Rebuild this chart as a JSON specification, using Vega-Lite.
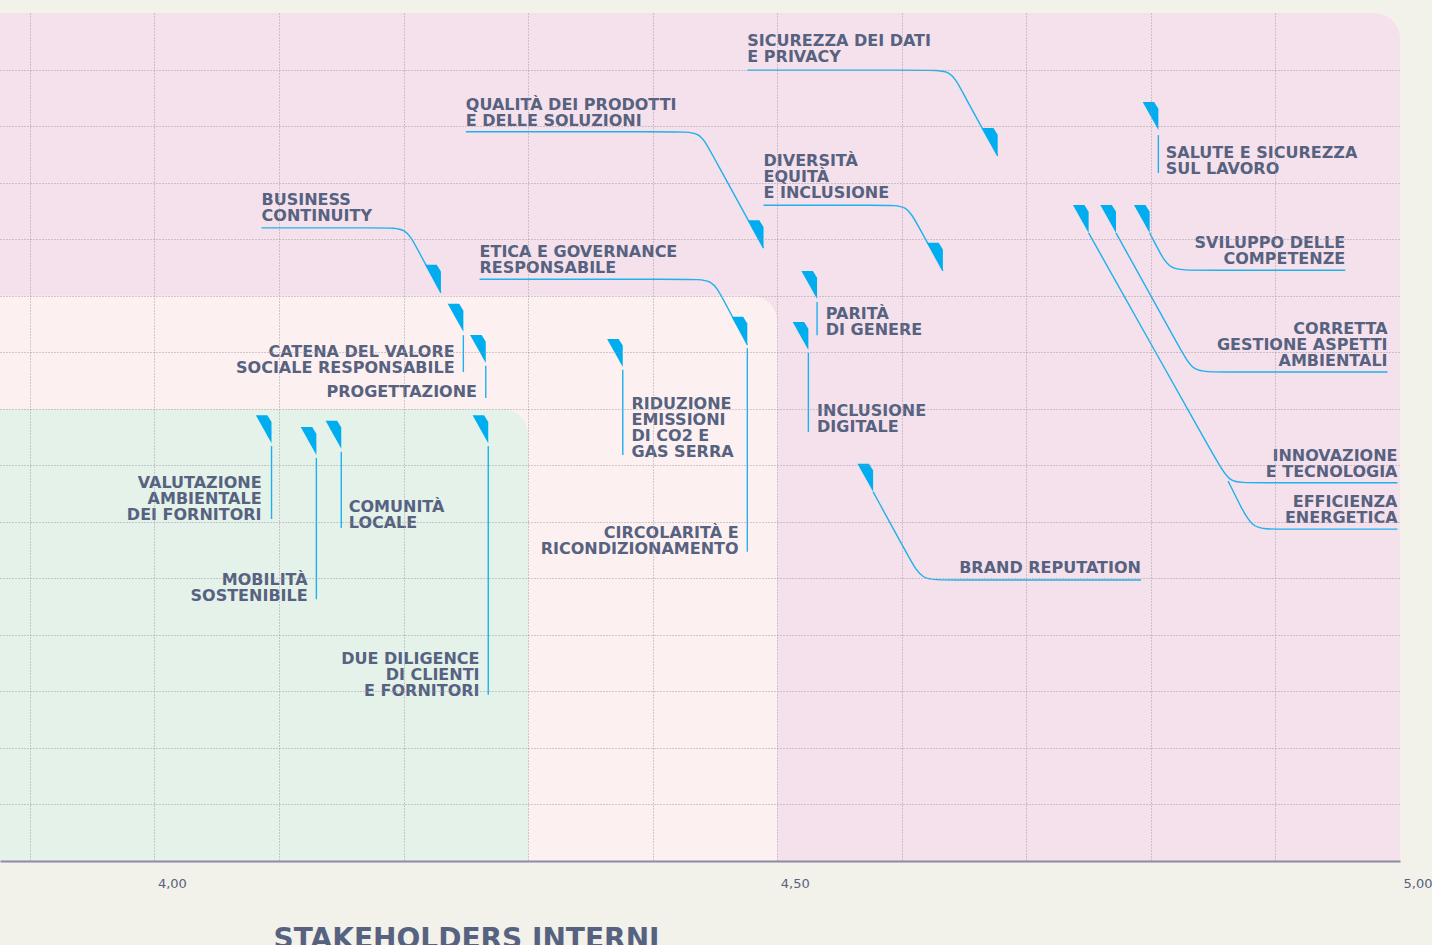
{
  "$schema": "https://vega.github.io/schema/vega-lite/v6.json",
  "width": 1400,
  "height": 848,
  "autosize": {"type": "none"},
  "padding": {"left": 0, "top": 13, "right": 32, "bottom": 84},
  "background": "#f2f1ea",
  "config": {"view": {"stroke": null}},
  "datasets": {
    "zones": [
      {"zone": "alta", "x": 3.876, "xe": 5.0, "y": 3.5, "ye": 5.0},
      {"zone": "media", "x": 3.876, "xe": 4.5, "y": 3.5, "ye": 4.5},
      {"zone": "bassa", "x": 3.876, "xe": 4.3, "y": 3.5, "ye": 4.3}
    ],
    "leaders": [
      {"id": "sicurezza", "i": 0, "x": 4.476, "y": 4.899},
      {"id": "sicurezza", "i": 1, "x": 4.621, "y": 4.899},
      {"id": "sicurezza", "i": 2, "x": 4.640, "y": 4.899},
      {"id": "sicurezza", "i": 3, "x": 4.648, "y": 4.862},
      {"id": "sicurezza", "i": 4, "x": 4.677, "y": 4.747},
      {"id": "qualita", "i": 0, "x": 4.250, "y": 4.790},
      {"id": "qualita", "i": 1, "x": 4.420, "y": 4.790},
      {"id": "qualita", "i": 2, "x": 4.438, "y": 4.790},
      {"id": "qualita", "i": 3, "x": 4.446, "y": 4.757},
      {"id": "qualita", "i": 4, "x": 4.489, "y": 4.584},
      {"id": "diversita", "i": 0, "x": 4.489, "y": 4.660},
      {"id": "diversita", "i": 1, "x": 4.587, "y": 4.660},
      {"id": "diversita", "i": 2, "x": 4.604, "y": 4.660},
      {"id": "diversita", "i": 3, "x": 4.612, "y": 4.628},
      {"id": "diversita", "i": 4, "x": 4.633, "y": 4.544},
      {"id": "business", "i": 0, "x": 4.086, "y": 4.620},
      {"id": "business", "i": 1, "x": 4.185, "y": 4.620},
      {"id": "business", "i": 2, "x": 4.202, "y": 4.620},
      {"id": "business", "i": 3, "x": 4.210, "y": 4.587},
      {"id": "business", "i": 4, "x": 4.230, "y": 4.505},
      {"id": "etica", "i": 0, "x": 4.261, "y": 4.529},
      {"id": "etica", "i": 1, "x": 4.430, "y": 4.529},
      {"id": "etica", "i": 2, "x": 4.448, "y": 4.529},
      {"id": "etica", "i": 3, "x": 4.456, "y": 4.496},
      {"id": "etica", "i": 4, "x": 4.476, "y": 4.413},
      {"id": "brand", "i": 0, "x": 4.577, "y": 4.153},
      {"id": "brand", "i": 1, "x": 4.607, "y": 4.032},
      {"id": "brand", "i": 2, "x": 4.616, "y": 3.997},
      {"id": "brand", "i": 3, "x": 4.634, "y": 3.997},
      {"id": "brand", "i": 4, "x": 4.792, "y": 3.997},
      {"id": "sviluppo", "i": 0, "x": 4.799, "y": 4.611},
      {"id": "sviluppo", "i": 1, "x": 4.807, "y": 4.577},
      {"id": "sviluppo", "i": 2, "x": 4.815, "y": 4.545},
      {"id": "sviluppo", "i": 3, "x": 4.835, "y": 4.545},
      {"id": "sviluppo", "i": 4, "x": 4.956, "y": 4.545},
      {"id": "corretta", "i": 0, "x": 4.772, "y": 4.611},
      {"id": "corretta", "i": 1, "x": 4.825, "y": 4.400},
      {"id": "corretta", "i": 2, "x": 4.834, "y": 4.365},
      {"id": "corretta", "i": 3, "x": 4.852, "y": 4.365},
      {"id": "corretta", "i": 4, "x": 4.990, "y": 4.365},
      {"id": "innovazione", "i": 0, "x": 4.750, "y": 4.611},
      {"id": "innovazione", "i": 1, "x": 4.854, "y": 4.203},
      {"id": "innovazione", "i": 2, "x": 4.863, "y": 4.169},
      {"id": "innovazione", "i": 3, "x": 4.880, "y": 4.169},
      {"id": "innovazione", "i": 4, "x": 4.998, "y": 4.169},
      {"id": "efficienza", "i": 0, "x": 4.862, "y": 4.172},
      {"id": "efficienza", "i": 1, "x": 4.873, "y": 4.123},
      {"id": "efficienza", "i": 2, "x": 4.882, "y": 4.087},
      {"id": "efficienza", "i": 3, "x": 4.900, "y": 4.087},
      {"id": "efficienza", "i": 4, "x": 4.998, "y": 4.087},
      {"id": "salute", "i": 0, "x": 4.806, "y": 4.784},
      {"id": "salute", "i": 1, "x": 4.806, "y": 4.717},
      {"id": "catena", "i": 0, "x": 4.248, "y": 4.430},
      {"id": "catena", "i": 1, "x": 4.248, "y": 4.365},
      {"id": "progettazione", "i": 0, "x": 4.266, "y": 4.376},
      {"id": "progettazione", "i": 1, "x": 4.266, "y": 4.319},
      {"id": "circolarita", "i": 0, "x": 4.476, "y": 4.407},
      {"id": "circolarita", "i": 1, "x": 4.476, "y": 4.047},
      {"id": "riduzione", "i": 0, "x": 4.376, "y": 4.369},
      {"id": "riduzione", "i": 1, "x": 4.376, "y": 4.218},
      {"id": "parita", "i": 0, "x": 4.532, "y": 4.489},
      {"id": "parita", "i": 1, "x": 4.532, "y": 4.430},
      {"id": "inclusione", "i": 0, "x": 4.525, "y": 4.399},
      {"id": "inclusione", "i": 1, "x": 4.525, "y": 4.259},
      {"id": "valutazione", "i": 0, "x": 4.094, "y": 4.234},
      {"id": "valutazione", "i": 1, "x": 4.094, "y": 4.105},
      {"id": "mobilita", "i": 0, "x": 4.130, "y": 4.213},
      {"id": "mobilita", "i": 1, "x": 4.130, "y": 3.963},
      {"id": "comunita", "i": 0, "x": 4.150, "y": 4.224},
      {"id": "comunita", "i": 1, "x": 4.150, "y": 4.089},
      {"id": "duediligence", "i": 0, "x": 4.268, "y": 4.234},
      {"id": "duediligence", "i": 1, "x": 4.268, "y": 3.794}
    ],
    "markers": [
      {"tema": "Sicurezza dei dati e privacy", "x": 4.677, "y": 4.747},
      {"tema": "Salute e sicurezza sul lavoro", "x": 4.806, "y": 4.793},
      {"tema": "Innovazione e tecnologia / Efficienza energetica", "x": 4.750, "y": 4.611},
      {"tema": "Corretta gestione aspetti ambientali", "x": 4.772, "y": 4.611},
      {"tema": "Sviluppo delle competenze", "x": 4.799, "y": 4.611},
      {"tema": "Qualità dei prodotti e delle soluzioni", "x": 4.489, "y": 4.584},
      {"tema": "Diversità equità e inclusione", "x": 4.633, "y": 4.544},
      {"tema": "Business continuity", "x": 4.230, "y": 4.505},
      {"tema": "Catena del valore sociale responsabile", "x": 4.248, "y": 4.436},
      {"tema": "Progettazione", "x": 4.266, "y": 4.381},
      {"tema": "Etica e governance / Circolarità", "x": 4.476, "y": 4.413},
      {"tema": "Riduzione emissioni", "x": 4.376, "y": 4.374},
      {"tema": "Parità di genere", "x": 4.532, "y": 4.494},
      {"tema": "Inclusione digitale", "x": 4.525, "y": 4.404},
      {"tema": "Brand reputation", "x": 4.577, "y": 4.153},
      {"tema": "Valutazione ambientale dei fornitori", "x": 4.094, "y": 4.239},
      {"tema": "Mobilità sostenibile", "x": 4.130, "y": 4.218},
      {"tema": "Comunità locale", "x": 4.150, "y": 4.229},
      {"tema": "Due diligence di clienti e fornitori", "x": 4.268, "y": 4.239}
    ],
    "labelsLeft": [
      {"t": "SICUREZZA DEI DATI\nE PRIVACY", "x": 4.476, "y": 4.941},
      {"t": "QUALITÀ DEI PRODOTTI\nE DELLE SOLUZIONI", "x": 4.250, "y": 4.829},
      {"t": "DIVERSITÀ\nEQUITÀ\nE INCLUSIONE", "x": 4.489, "y": 4.730},
      {"t": "BUSINESS\nCONTINUITY", "x": 4.086, "y": 4.661},
      {"t": "ETICA E GOVERNANCE\nRESPONSABILE", "x": 4.261, "y": 4.569},
      {"t": "SALUTE E SICUREZZA\nSUL LAVORO", "x": 4.812, "y": 4.744},
      {"t": "PARITÀ\nDI GENERE", "x": 4.539, "y": 4.458},
      {"t": "INCLUSIONE\nDIGITALE", "x": 4.532, "y": 4.288},
      {"t": "RIDUZIONE\nEMISSIONI\nDI CO2 E\nGAS SERRA", "x": 4.383, "y": 4.300},
      {"t": "COMUNITÀ\nLOCALE", "x": 4.156, "y": 4.118}
    ],
    "labelsRight": [
      {"t": "SVILUPPO DELLE\nCOMPETENZE", "x": 4.956, "y": 4.585},
      {"t": "CORRETTA\nGESTIONE ASPETTI\nAMBIENTALI", "x": 4.990, "y": 4.433},
      {"t": "INNOVAZIONE\nE TECNOLOGIA", "x": 4.998, "y": 4.208},
      {"t": "EFFICIENZA\nENERGETICA", "x": 4.998, "y": 4.127},
      {"t": "BRAND REPUTATION", "x": 4.792, "y": 4.009},
      {"t": "CIRCOLARITÀ E\nRICONDIZIONAMENTO", "x": 4.469, "y": 4.072},
      {"t": "CATENA DEL VALORE\nSOCIALE RESPONSABILE", "x": 4.241, "y": 4.392},
      {"t": "PROGETTAZIONE", "x": 4.259, "y": 4.320},
      {"t": "VALUTAZIONE\nAMBIENTALE\nDEI  FORNITORI", "x": 4.086, "y": 4.159},
      {"t": "MOBILITÀ\nSOSTENIBILE", "x": 4.123, "y": 3.989},
      {"t": "DUE DILIGENCE\nDI CLIENTI\nE FORNITORI", "x": 4.261, "y": 3.849}
    ]
  },
  "encoding": {
    "x": {
      "field": "x", "type": "quantitative",
      "scale": {"domain": [3.876, 5.0], "nice": false, "zero": false},
      "axis": {
        "values": [3.9, 4, 4.1, 4.2, 4.3, 4.4, 4.5, 4.6, 4.7, 4.8, 4.9, 5],
        "grid": true, "gridDash": [1, 2], "gridColor": "#98969f", "gridWidth": 1,
        "gridOpacity": {"condition": {"test": "datum.value > 4.95", "value": 0}, "value": 0.9},
        "ticks": false, "tickSize": 0,
        "domain": true, "domainColor": "#8d8aa3", "domainWidth": 2,
        "labelExpr": "datum.value == 4 || datum.value == 4.5 || datum.value == 5 ? replace(format(datum.value, '.2f'), '.', ',') : ''",
        "labelAlign": "left", "labelOffset": 3, "labelBaseline": "middle", "labelPadding": 22,
        "labelFont": "DejaVu Sans", "labelFontSize": 13, "labelColor": "#566280",
        "labelOverlap": false, "labelFlush": false, "labelBound": false,
        "title": "STAKEHOLDERS INTERNI", "titleFont": "DejaVu Sans", "titleFontSize": 28,
        "titleFontWeight": "bold", "titleColor": "#566280", "titleAnchor": "start",
        "titleAlign": "left", "titleX": 273, "titleY": 86, "titleBaseline": "alphabetic",
        "zindex": 1
      }
    },
    "y": {
      "field": "y", "type": "quantitative",
      "scale": {"domain": [3.5, 5.0], "nice": false, "zero": false},
      "axis": {
        "values": [3.6, 3.7, 3.8, 3.9, 4, 4.1, 4.2, 4.3, 4.4, 4.5, 4.6, 4.7, 4.8, 4.9],
        "grid": true, "gridDash": [1, 2], "gridColor": "#98969f", "gridWidth": 1, "gridOpacity": 0.9,
        "ticks": false, "labels": false, "domain": false, "title": null, "zindex": 1
      }
    }
  },
  "layer": [
    {
      "data": {"name": "zones"},
      "mark": {"type": "rect", "cornerRadiusTopRight": 26},
      "encoding": {
        "x2": {"field": "xe"},
        "y2": {"field": "ye"},
        "color": {
          "field": "zone", "type": "nominal",
          "scale": {"domain": ["alta", "media", "bassa"], "range": ["#f5e1ec", "#fdf0f0", "#e5f2ea"]},
          "legend": null
        }
      }
    },
    {
      "data": {"name": "leaders"},
      "mark": {"type": "line", "interpolate": "basis", "color": "#1eb1ec", "strokeWidth": 1.4},
      "encoding": {
        "detail": {"field": "id", "type": "nominal"},
        "order": {"field": "i", "type": "quantitative"}
      }
    },
    {
      "data": {"name": "markers"},
      "mark": {
        "type": "point", "filled": true, "opacity": 1, "color": "#00adef", "strokeWidth": 0,
        "size": 784, "shape": "M -1.12 -2 L -0.3 -2 L 0 -1.52 L 0 0 Z"
      }
    },
    {
      "data": {"name": "labelsLeft"},
      "mark": {
        "type": "text", "align": "left", "baseline": "alphabetic", "font": "DejaVu Sans",
        "fontSize": 16, "fontWeight": "bold", "color": "#566280", "lineBreak": "\n", "lineHeight": 16
      },
      "encoding": {"text": {"field": "t", "type": "nominal"}}
    },
    {
      "data": {"name": "labelsRight"},
      "mark": {
        "type": "text", "align": "right", "baseline": "alphabetic", "font": "DejaVu Sans",
        "fontSize": 16, "fontWeight": "bold", "color": "#566280", "lineBreak": "\n", "lineHeight": 16
      },
      "encoding": {"text": {"field": "t", "type": "nominal"}}
    }
  ]
}
